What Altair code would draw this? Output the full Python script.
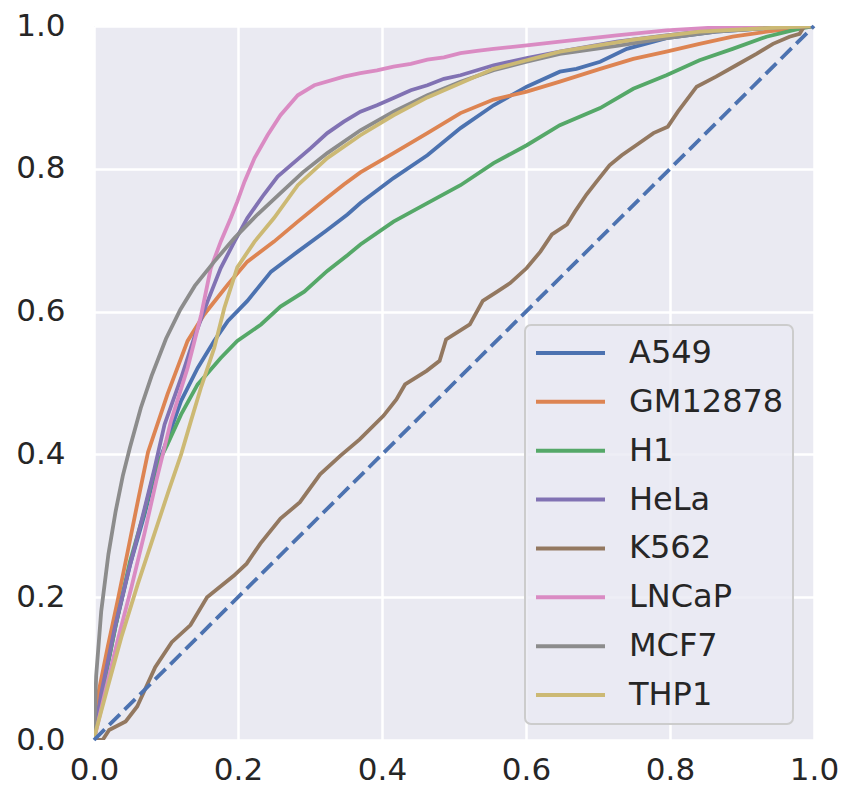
import altair as alt
import pandas as pd

names = ["A549", "GM12878", "H1", "HeLa", "K562", "LNCaP", "MCF7", "THP1"]
colors = ["#4C72B0", "#DD8452", "#55A868", "#8172B3", "#937860", "#DA8BC3", "#8C8C8C", "#CCB974"]

a549_x = [0.0, 0.01, 0.03, 0.05, 0.07, 0.085, 0.105, 0.121, 0.144, 0.167, 0.186, 0.213, 0.246, 0.283, 0.322, 0.352, 0.370, 0.416, 0.463, 0.509, 0.555, 0.601, 0.647, 0.670, 0.703, 0.740, 0.795, 0.864, 0.934, 1.0]
a549_y = [0.0, 0.06, 0.16, 0.245, 0.315, 0.375, 0.43, 0.475, 0.521, 0.559, 0.587, 0.615, 0.656, 0.684, 0.713, 0.736, 0.752, 0.787, 0.819, 0.857, 0.889, 0.915, 0.936, 0.940, 0.950, 0.968, 0.983, 0.992, 0.997, 1.0]

gm_x = [0.0, 0.006, 0.019, 0.033, 0.047, 0.061, 0.075, 0.102, 0.130, 0.153, 0.186, 0.213, 0.250, 0.283, 0.322, 0.347, 0.370, 0.416, 0.463, 0.509, 0.555, 0.601, 0.647, 0.703, 0.749, 0.795, 0.841, 0.887, 0.934, 1.0]
gm_y = [0.0, 0.065, 0.130, 0.196, 0.265, 0.335, 0.403, 0.484, 0.559, 0.596, 0.638, 0.670, 0.698, 0.726, 0.758, 0.778, 0.795, 0.822, 0.850, 0.878, 0.897, 0.908, 0.922, 0.940, 0.954, 0.964, 0.975, 0.985, 0.992, 1.0]

h1_x = [0.0, 0.01, 0.03, 0.05, 0.07, 0.084, 0.102, 0.121, 0.144, 0.158, 0.176, 0.199, 0.232, 0.259, 0.292, 0.324, 0.352, 0.370, 0.416, 0.463, 0.509, 0.555, 0.601, 0.647, 0.703, 0.749, 0.795, 0.841, 0.887, 0.934, 0.970, 0.984, 1.0]
h1_y = [0.0, 0.06, 0.16, 0.25, 0.32, 0.377, 0.414, 0.456, 0.498, 0.514, 0.535, 0.559, 0.582, 0.607, 0.628, 0.657, 0.679, 0.694, 0.726, 0.752, 0.777, 0.808, 0.833, 0.861, 0.885, 0.912, 0.931, 0.952, 0.968, 0.985, 0.994, 0.997, 1.0]

hela_x = [0.0, 0.010, 0.029, 0.047, 0.066, 0.084, 0.098, 0.121, 0.139, 0.158, 0.176, 0.195, 0.213, 0.236, 0.255, 0.301, 0.324, 0.347, 0.370, 0.393, 0.416, 0.440, 0.463, 0.486, 0.509, 0.555, 0.601, 0.647, 0.726, 0.795, 0.864, 0.934, 1.0]
hela_y = [0.0, 0.065, 0.158, 0.233, 0.307, 0.380, 0.442, 0.507, 0.563, 0.615, 0.661, 0.698, 0.731, 0.764, 0.789, 0.829, 0.850, 0.866, 0.880, 0.889, 0.899, 0.910, 0.917, 0.926, 0.931, 0.945, 0.955, 0.964, 0.978, 0.987, 0.995, 0.999, 1.0]

k562_x = [0.0, 0.012, 0.021, 0.044, 0.060, 0.085, 0.108, 0.134, 0.157, 0.194, 0.212, 0.231, 0.259, 0.286, 0.314, 0.342, 0.369, 0.402, 0.420, 0.432, 0.462, 0.480, 0.489, 0.522, 0.540, 0.560, 0.578, 0.601, 0.620, 0.636, 0.657, 0.668, 0.684, 0.698, 0.716, 0.733, 0.753, 0.777, 0.797, 0.811, 0.837, 0.864, 0.892, 0.920, 0.943, 0.966, 0.980, 0.986, 1.0]
k562_y = [0.0, 0.0, 0.014, 0.026, 0.047, 0.102, 0.137, 0.161, 0.200, 0.230, 0.247, 0.275, 0.310, 0.333, 0.372, 0.398, 0.421, 0.454, 0.477, 0.498, 0.517, 0.531, 0.561, 0.582, 0.615, 0.628, 0.640, 0.661, 0.684, 0.708, 0.722, 0.740, 0.764, 0.782, 0.805, 0.819, 0.833, 0.850, 0.859, 0.880, 0.915, 0.929, 0.945, 0.961, 0.975, 0.985, 0.989, 0.999, 1.0]

lncap_x = [0.0, 0.015, 0.033, 0.052, 0.070, 0.087, 0.107, 0.130, 0.149, 0.162, 0.176, 0.190, 0.199, 0.209, 0.223, 0.241, 0.259, 0.283, 0.306, 0.347, 0.370, 0.393, 0.416, 0.440, 0.463, 0.486, 0.509, 0.532, 0.555, 0.601, 0.647, 0.726, 0.795, 0.864, 1.0]
lncap_y = [0.0, 0.065, 0.140, 0.214, 0.289, 0.365, 0.447, 0.521, 0.596, 0.660, 0.698, 0.731, 0.754, 0.782, 0.815, 0.847, 0.875, 0.903, 0.917, 0.929, 0.934, 0.938, 0.943, 0.947, 0.953, 0.956, 0.962, 0.965, 0.968, 0.973, 0.978, 0.987, 0.994, 0.998, 1.0]

mcf7_x = [0.0, 0.003, 0.010, 0.020, 0.030, 0.040, 0.050, 0.065, 0.080, 0.100, 0.120, 0.140, 0.167, 0.195, 0.227, 0.259, 0.290, 0.324, 0.370, 0.416, 0.463, 0.509, 0.555, 0.601, 0.647, 0.726, 0.795, 0.864, 0.934, 1.0]
mcf7_y = [0.0, 0.090, 0.180, 0.260, 0.320, 0.370, 0.410, 0.465, 0.510, 0.562, 0.603, 0.636, 0.670, 0.703, 0.736, 0.766, 0.795, 0.822, 0.854, 0.880, 0.903, 0.922, 0.938, 0.950, 0.961, 0.972, 0.983, 0.992, 0.997, 1.0]

thp1_x = [0.0, 0.003, 0.019, 0.038, 0.061, 0.084, 0.104, 0.121, 0.135, 0.149, 0.167, 0.181, 0.199, 0.223, 0.250, 0.283, 0.324, 0.370, 0.416, 0.463, 0.555, 0.647, 0.749, 0.841, 0.934, 1.0]
thp1_y = [0.0, 0.014, 0.074, 0.144, 0.219, 0.289, 0.350, 0.400, 0.448, 0.495, 0.549, 0.605, 0.662, 0.698, 0.731, 0.777, 0.815, 0.847, 0.875, 0.900, 0.940, 0.964, 0.981, 0.992, 0.997, 1.0]

diag_x = [0.0, 1.0]
diag_y = [0.0, 1.0]

series = {
    "A549": (a549_x, a549_y),
    "GM12878": (gm_x, gm_y),
    "H1": (h1_x, h1_y),
    "HeLa": (hela_x, hela_y),
    "K562": (k562_x, k562_y),
    "LNCaP": (lncap_x, lncap_y),
    "MCF7": (mcf7_x, mcf7_y),
    "THP1": (thp1_x, thp1_y),
}

rows = []
for name in names:
    xs, ys = series[name]
    for i, (xv, yv) in enumerate(zip(xs, ys)):
        rows.append({"cell": name, "fpr": xv, "tpr": yv, "idx": i})
df = pd.DataFrame(rows)
diag = pd.DataFrame({"fpr": diag_x, "tpr": diag_y})

FONT = "DejaVu Sans"
ticks = [0.0, 0.2, 0.4, 0.6, 0.8, 1.0]

xscale = alt.Scale(domain=[0, 1], nice=False, zero=False)
yscale = alt.Scale(domain=[0, 1], nice=False, zero=False)
xaxis = alt.Axis(values=ticks, format=".1f", title=None, labelFontSize=31, labelPadding=15,
                 labelFont=FONT, labelColor="#262626", ticks=False, domain=False,
                 grid=True, gridColor="white", gridWidth=2.5, labelFlush=False)
yaxis = alt.Axis(values=ticks, format=".1f", title=None, labelFontSize=31, labelPadding=29,
                 labelFont=FONT, labelColor="#262626", ticks=False, domain=False,
                 grid=True, gridColor="white", gridWidth=2.5, labelFlush=False)

lines = alt.Chart(df).mark_line(strokeWidth=3.8, clip=True).encode(
    x=alt.X("fpr:Q", scale=xscale, axis=xaxis),
    y=alt.Y("tpr:Q", scale=yscale, axis=yaxis),
    color=alt.Color("cell:N", scale=alt.Scale(domain=names, range=colors),
                    legend=alt.Legend(title=None, orient="none", legendX=431, legendY=299,
                                      symbolType="stroke", symbolSize=4761, symbolStrokeWidth=4,
                                      labelFontSize=32, labelFont=FONT, labelColor="#262626",
                                      padding=9, symbolOffset=0, labelOffset=22,
                                      clipHeight=38, rowPadding=10.86,
                                      fillColor="rgba(234,234,242,0.8)", strokeColor="#CCCCCC",
                                      cornerRadius=6, labelLimit=400)),
    order=alt.Order("idx:Q"),
)

diag_line = alt.Chart(diag).mark_line(strokeWidth=3.8, strokeDash=[15, 6.5], color="#4C72B0").encode(
    x=alt.X("fpr:Q", scale=xscale),
    y=alt.Y("tpr:Q", scale=yscale),
)

chart = alt.layer(lines, diag_line).properties(
    width=720, height=714,
    autosize=alt.AutoSizeParams(type="none"),
    padding={"left": 86, "top": 18, "right": 25, "bottom": 49},
    background="white",
).configure_view(fill="#EAEAF2", stroke=None).configure_legend(strokeWidth=2)

chart.save("out.html", embed_options={"renderer": "svg", "actions": False})
